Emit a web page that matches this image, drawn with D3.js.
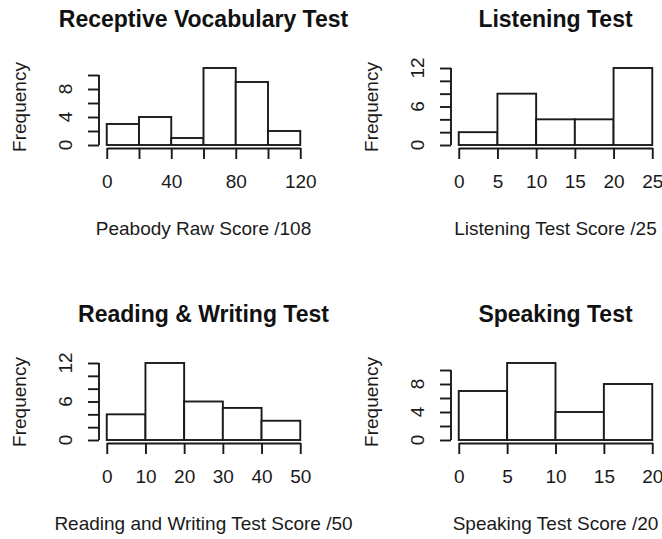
<!DOCTYPE html>
<html>
<head>
<meta charset="utf-8">
<script src="https://cdn.jsdelivr.net/npm/d3@7"></script>
<style>
  body { margin: 0; background: #fff; }
  svg { display: block; font-family: "Liberation Sans", Arial, sans-serif; }
</style>
</head>
<body>
<svg id="chart"></svg>
<script>
// data
let titles = ['Receptive Vocabulary Test', 'Listening Test', 'Reading & Writing Test', 'Speaking Test']
let xTitles = ['Peabody Raw Score /108', 'Listening Test Score /25', 'Reading and Writing Test Score /50', 'Speaking Test Score /20']

let rvBreaks = [0, 20, 40, 60, 80, 100, 120]
let rvCounts = [3, 4, 1, 11, 9, 2]
let lsBreaks = [0, 5, 10, 15, 20, 25]
let lsCounts = [2, 8, 4, 4, 12]
let rwBreaks = [0, 10, 20, 30, 40, 50]
let rwCounts = [4, 12, 6, 5, 3]
let spBreaks = [0, 5, 10, 15, 20]
let spCounts = [7, 11, 4, 8]

// axis ticks / which ones get a label
let rvYTicks = [0, 2, 4, 6, 8, 10]
let rvYLabels = [0, 4, 8]
let lsYTicks = [0, 2, 4, 6, 8, 10, 12]
let lsYLabels = [0, 6, 12]
let rwYTicks = [0, 2, 4, 6, 8, 10, 12]
let rwYLabels = [0, 6, 12]
let spYTicks = [0, 2, 4, 6, 8, 10]
let spYLabels = [0, 4, 8]

let rvXLabels = [0, 40, 80, 120]
let lsXLabels = lsBreaks
let rwXLabels = rwBreaks
let spXLabels = spBreaks

let width = 662
let height = 539
let colStep = 352
let rowStep = 295
let ink = '#1a1a1a'
let lw = 1.9

let svg = d3.select('#chart').attr('width', width).attr('height', height)

let panels = [
  {breaks: rvBreaks, counts: rvCounts, yTicks: rvYTicks, yLabels: rvYLabels, xLabels: rvXLabels},
  {breaks: lsBreaks, counts: lsCounts, yTicks: lsYTicks, yLabels: lsYLabels, xLabels: lsXLabels},
  {breaks: rwBreaks, counts: rwCounts, yTicks: rwYTicks, yLabels: rwYLabels, xLabels: rwXLabels},
  {breaks: spBreaks, counts: spCounts, yTicks: spYTicks, yLabels: spYLabels, xLabels: spXLabels}
]

let drawPanel = (p, i) => {
  let g = svg.append('g')
    .attr('transform', 'translate(' + (i % 2) * colStep + ',' + Math.floor(i / 2) * rowStep + ')')

  // plot region (R style, 4% padding)
  let left = 99, right = 308, bottom = 148
  let xScale = d3.scaleLinear()
    .domain(d3.extent(p.breaks))
    .range([left + 0.04 * (right - left) / 1.08, right - 0.04 * (right - left) / 1.08])
  let yScale = d3.scaleLinear()
    .domain([0, d3.max(p.counts)])
    .range([145, 68])

  // bars
  g.selectAll('rect')
    .data(p.counts)
    .enter()
    .append('rect')
    .attr('x', (d, j) => xScale(p.breaks[j]))
    .attr('width', (d, j) => xScale(p.breaks[j + 1]) - xScale(p.breaks[j]))
    .attr('y', (d) => yScale(d))
    .attr('height', (d) => yScale(0) - yScale(d))
    .attr('fill', '#fff')
    .attr('stroke', ink)
    .attr('stroke-width', lw)

  // x axis
  let xAxis = d3.axisBottom(xScale)
    .tickValues(p.breaks)
    .tickSize(11)
    .tickSizeOuter(0)
    .tickPadding(16)
    .tickFormat((d) => p.xLabels.includes(d) ? d : '')
  let xg = g.append('g')
    .attr('transform', 'translate(0,' + bottom + ')')
    .call(xAxis)
  xg.selectAll('path, line').attr('stroke', ink).attr('stroke-width', lw)
  xg.selectAll('text').attr('fill', ink).style('font-size', '19px')
  xg.attr('font-family', null).attr('font-size', null)

  // y axis
  let yAxis = d3.axisLeft(yScale)
    .tickValues(p.yTicks)
    .tickSize(11)
    .tickFormat('')
  let yg = g.append('g')
    .attr('transform', 'translate(' + left + ',0)')
    .call(yAxis)
  yg.select('.domain').remove()
  yg.selectAll('line').attr('stroke', ink).attr('stroke-width', lw)
  yg.append('line')
    .attr('y1', yScale(0))
    .attr('y2', yScale(d3.max(p.yTicks)))
    .attr('stroke', ink)
    .attr('stroke-width', lw)

  g.selectAll('.ylab')
    .data(p.yLabels)
    .enter()
    .append('text')
    .attr('class', 'ylab')
    .attr('transform', (d) => 'translate(72,' + yScale(d) + ') rotate(-90)')
    .attr('text-anchor', 'middle')
    .attr('fill', ink)
    .style('font-size', '19px')
    .text((d) => d)

  // titles
  let mid = (left + right) / 2
  g.append('text')
    .attr('x', mid)
    .attr('y', 27)
    .attr('text-anchor', 'middle')
    .attr('font-weight', 'bold')
    .style('font-size', '23px')
    .attr('fill', '#111')
    .text(titles[i])

  g.append('text')
    .attr('x', mid)
    .attr('y', 235)
    .attr('text-anchor', 'middle')
    .style('font-size', '19px')
    .attr('fill', ink)
    .text(xTitles[i])

  g.append('text')
    .attr('transform', 'translate(26,107) rotate(-90)')
    .attr('text-anchor', 'middle')
    .style('font-size', '19px')
    .attr('fill', ink)
    .text('Frequency')
}

panels.forEach(drawPanel)
</script>
</body>
</html>
